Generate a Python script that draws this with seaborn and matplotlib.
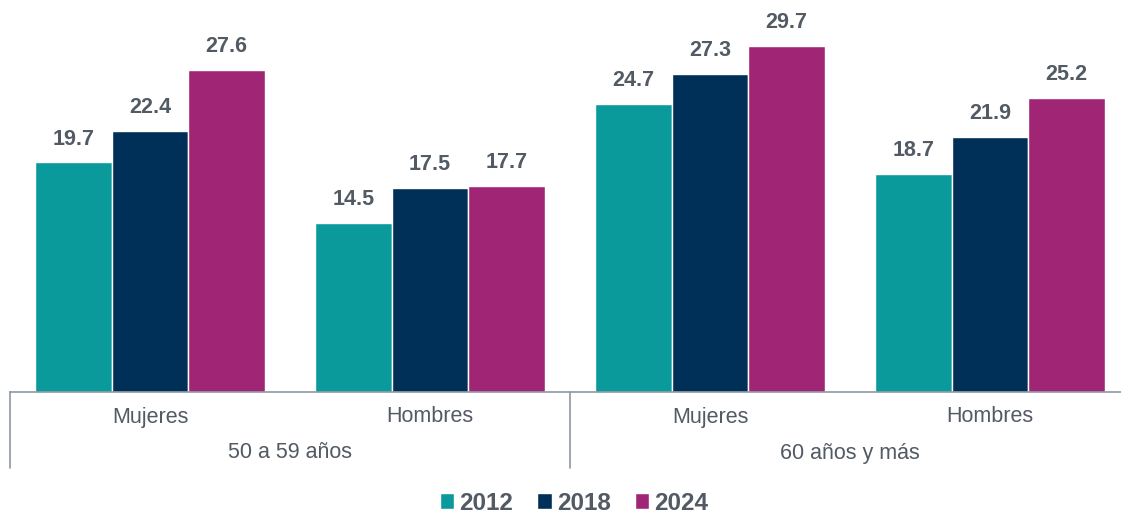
import pandas as pd
import numpy as np
import matplotlib
matplotlib.use("Agg")
import matplotlib.pyplot as plt
import seaborn as sns

# data
grupos = ["50 a 59 años", "60 años y más"]
sexos = ["Mujeres", "Hombres"]
anios = ["2012", "2018", "2024"]
v2012 = [19.7, 14.5, 24.7, 18.7]
v2018 = [22.4, 17.5, 27.3, 21.9]
v2024 = [27.6, 17.7, 29.7, 25.2]

pal = ["#0a9a9b", "#003057", "#a02675"]
txt = "#525a63"
line_c = "#8e98a3"

cats = ["c%d" % i for i in range(4)]
rows = []
for year, vals in zip(anios, [v2012, v2018, v2024]):
    for c, v in zip(cats, vals):
        rows.append({"cat": c, "anio": year, "valor": v})
df = pd.DataFrame(rows)

sns.set_style("white")
plt.rcParams["font.family"] = ["Liberation Sans", "DejaVu Sans"]

fig = plt.figure(figsize=(11.21, 5.13), dpi=100)
ax = fig.add_axes([10 / 1121, 121 / 513, 1120 / 1121, 392 / 513])
sns.barplot(data=df, x="cat", y="valor", hue="anio", palette=pal, order=cats,
            hue_order=anios, width=0.82, saturation=1, edgecolor="white",
            linewidth=1, ax=ax, legend=True)

for cont in ax.containers:
    ax.bar_label(cont, fmt="%.1f", padding=9, fontsize=15.5, fontweight="bold", color=txt)

ax.set_ylim(0, 33.6)
ax.set_xlim(-0.5, 3.5)
ax.set_yticks([])
ax.set_xlabel("")
ax.set_ylabel("")
ax.set_xticks([])
for s in ["top", "right", "left"]:
    ax.spines[s].set_visible(False)
ax.spines["bottom"].set_color(line_c)
ax.spines["bottom"].set_linewidth(1.2)

# category labels and group separators
trans = ax.get_xaxis_transform()
for i, c in enumerate(cats):
    ax.text(i, -25 / 392, sexos[i % 2], transform=trans, ha="center", va="center",
            fontsize=15.5, color=txt, clip_on=False)
for j, g in enumerate(grupos):
    ax.text(2 * j + 0.5, -61 / 392, g, transform=trans, ha="center", va="center",
            fontsize=15.5, color=txt, clip_on=False)
for xb in [-0.5, 1.5, 3.5]:
    ax.plot([xb, xb], [0, -76 / 392], transform=trans, color=line_c, lw=1.2, clip_on=False)

handles, labels = ax.get_legend_handles_labels()
ax.legend(handles, labels, loc="center", bbox_to_anchor=(564 / 1120, -111 / 392), ncol=3,
          frameon=False, handlelength=0.6, handleheight=0.6, handletextpad=0.2,
          columnspacing=1.0, prop={"weight": "bold", "size": 17.5}, labelcolor=txt)

plt.savefig("out.png", dpi=100)
